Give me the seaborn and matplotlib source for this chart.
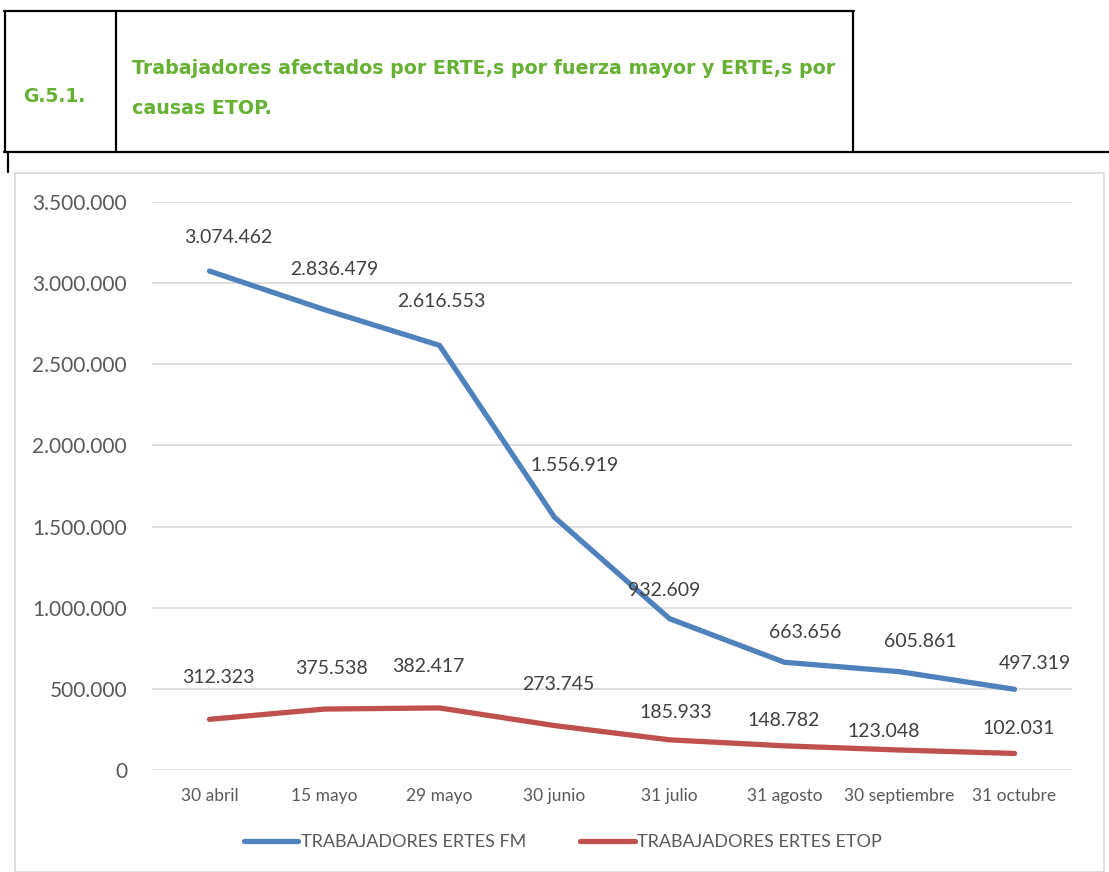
import matplotlib
matplotlib.use("Agg")
import matplotlib.pyplot as plt
import seaborn as sns
import pandas as pd
from matplotlib.lines import Line2D
from matplotlib.patches import Rectangle

# Data
fechas = ['30 abril', '15 mayo', '29 mayo', '30 junio', '31 julio',
          '31 agosto', '30 septiembre', '31 octubre']
ertes_fm = [3074462, 2836479, 2616553, 1556919, 932609, 663656, 605861, 497319]
ertes_etop = [312323, 375538, 382417, 273745, 185933, 148782, 123048, 102031]
serie_fm = 'TRABAJADORES ERTES FM'
serie_etop = 'TRABAJADORES ERTES ETOP'
yticks = [0, 500000, 1000000, 1500000, 2000000, 2500000, 3000000, 3500000]

# label offsets in pixels (dx, dy)
off_fm = [(19, 34), (10, 40), (2, 44), (20, 52), (-5, 28), (21, 30), (21, 30), (20, 26)]
off_etop = [(9, 42), (7, 41), (-11, 41), (4, 41), (6, 27), (-1, 25), (-16, 19), (4, 25)]


def fmt(v):
    return f'{v:,}'.replace(',', '.')


df = pd.DataFrame({'fecha': fechas * 2,
                   'valor': ertes_fm + ertes_etop,
                   'serie': [serie_fm] * len(fechas) + [serie_etop] * len(fechas)})
df['pos'] = list(range(len(fechas))) * 2

sns.set_style('white')
plt.rcParams['font.family'] = ['Lato', 'DejaVu Sans']

W, H = 1109, 872
fig = plt.figure(figsize=(W / 100, H / 100), dpi=100)
ax = fig.add_axes([152 / W, 1 - 770 / H, 920 / W, 568 / H])

colores = {serie_fm: '#4F81BD', serie_etop: '#C0504D'}
sns.lineplot(data=df, x='pos', y='valor', hue='serie', palette=colores,
             linewidth=3.8, ax=ax, legend=False, solid_capstyle='round')

for vals, offs in [(ertes_fm, off_fm), (ertes_etop, off_etop)]:
    for i, (v, o) in enumerate(zip(vals, offs)):
        ax.annotate(fmt(v), (i, v), xytext=o, textcoords='offset pixels',
                    ha='center', va='center', fontsize=14, color='#404040')

ax.set_xlim(-0.5, len(fechas) - 0.5)
ax.set_ylim(0, 3500000)
ax.set_yticks(yticks)
ax.set_yticklabels([fmt(v) for v in yticks], fontsize=15, color='#595959')
ax.set_xticks(range(len(fechas)))
ax.set_xticklabels(fechas, fontsize=12.5, color='#595959')
ax.tick_params(axis='y', length=0, pad=18)
ax.tick_params(axis='x', length=0, pad=13)
ax.grid(axis='y', color='#D9D9D9', linewidth=1.2)
ax.set_axisbelow(True)
for s in ax.spines.values():
    s.set_visible(False)
ax.set_xlabel('')
ax.set_ylabel('')

handles = [Line2D([0], [0], color=colores[serie_fm], lw=3.8, solid_capstyle='round'),
           Line2D([0], [0], color=colores[serie_etop], lw=3.8, solid_capstyle='round')]
leg = fig.legend(handles, [serie_fm, serie_etop], loc='center',
                 bbox_to_anchor=(563 / W, 1 - 842 / H), ncol=2, frameon=False,
                 fontsize=13, handlelength=3.0, handletextpad=0.15, columnspacing=3.0)
for t in leg.get_texts():
    t.set_color('#595959')


# header table and chart frame (figure pixel coords)
def px_line(x0, y0, x1, y1, color='black', lw=1.6):
    fig.add_artist(Line2D([x0 / W, x1 / W], [1 - y0 / H, 1 - y1 / H],
                          color=color, linewidth=lw, transform=fig.transFigure))


px_line(4, 11, 854, 11)
px_line(5, 11, 5, 152)
px_line(116, 11, 116, 152)
px_line(853, 11, 853, 152)
px_line(4, 152, 1109, 152)
px_line(8, 152, 8, 172)

fig.add_artist(Rectangle((14.5 / W, 0), (1104 - 14.5) / W, 1 - 173.5 / H,
                         transform=fig.transFigure, fill=False,
                         edgecolor='#D9D9D9', linewidth=1.2))

verde = '#66B132'
fig.text(23 / W, 1 - 96 / H, 'G.5.1.', fontsize=13.5, fontweight='bold',
         color=verde, va='center', ha='left', family='DejaVu Sans')
fig.text(132 / W, 1 - 68 / H,
         'Trabajadores afectados por ERTE,s por fuerza mayor y ERTE,s por',
         fontsize=13.7, fontweight='bold', color=verde, va='center', ha='left',
         family='DejaVu Sans')
fig.text(132 / W, 1 - 109 / H, 'causas ETOP.', fontsize=13.7, fontweight='bold',
         color=verde, va='center', ha='left', family='DejaVu Sans')

fig.savefig('out.png', dpi=100)
